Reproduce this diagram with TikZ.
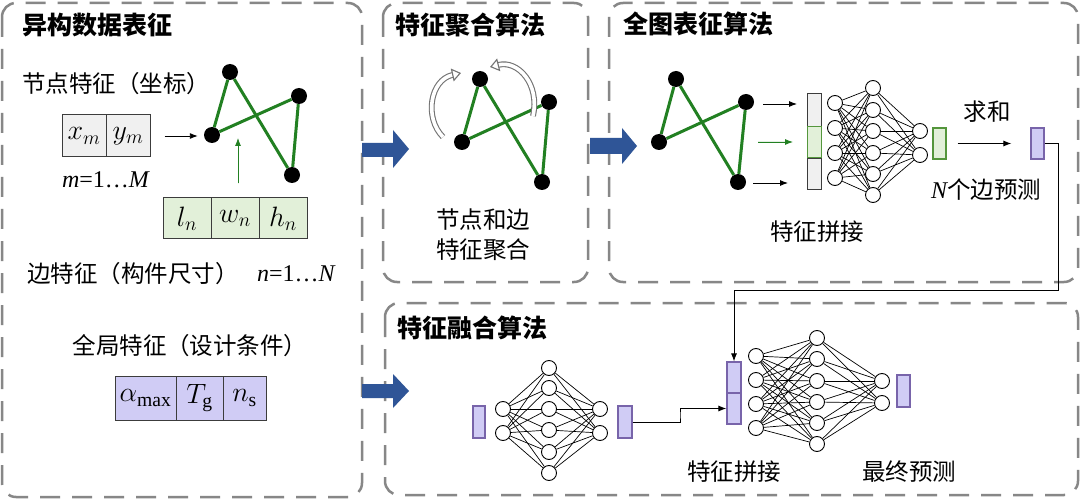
\RequirePackage{fix-cm}
\documentclass[tikz,border=0pt]{standalone}
\usepackage{fontspec}
\setmainfont{Liberation Serif}
\newfontfamily\cjk{Noto Sans CJK SC}
\usetikzlibrary{arrows.meta,calc}
\definecolor{panelgray}{RGB}{135,135,135}
\definecolor{edgegreen}{RGB}{34,128,34}
\definecolor{cellgray}{RGB}{240,240,240}
\definecolor{cellgreen}{RGB}{226,240,217}
\definecolor{greenline}{RGB}{84,150,60}
\definecolor{cellpurple}{RGB}{208,204,245}
\definecolor{purpleline}{RGB}{120,100,170}
\definecolor{arrowblue}{RGB}{47,85,151}
\definecolor{cellline}{RGB}{60,60,60}
\tikzset{
  panel/.style={draw=panelgray, line width=2.5pt, dash pattern=on 20pt off 12pt, rounded corners=14pt},
  ptitle/.style={font=\cjk\bfseries\fontsize{25}{28}\selectfont, anchor=west, inner sep=0pt},
  ctext/.style={font=\cjk\fontsize{23.5}{28}\selectfont, inner sep=0pt},
  mtext/.style={font=\fontsize{24}{26}\selectfont, inner sep=0pt},
  gnode/.style={circle, fill=black, minimum size=16pt, inner sep=0pt},
  gedge/.style={draw=edgegreen, line width=3pt},
  nnode/.style={circle, draw=black, fill=white, line width=0.9pt, minimum size=15pt, inner sep=0pt},
  nnedge/.style={draw=black, line width=0.7pt},
  cell/.style={draw=cellline, line width=1pt, inner sep=0pt, font=\fontsize{28}{30}\selectfont},
  vgray/.style={draw=cellline, fill=cellgray, line width=1pt, inner sep=0pt, minimum width=14pt},
  vgreen/.style={draw=greenline, fill=cellgreen, line width=1.2pt, inner sep=0pt, minimum width=13pt},
  vpurple/.style={draw=purpleline, fill=cellpurple, line width=1.2pt, inner sep=0pt, minimum width=13pt},
  thinarrow/.style={-{Latex[length=8pt,width=6pt]}, line width=0.9pt},
  bigarrow/.style={fill=arrowblue, draw=none},
  hollowarrow/.style={draw=black!55, double=white, double distance=3.6pt, line width=1.1pt, -{Triangle[open,length=9pt,width=13pt]}},
}
\begin{document}
\begin{tikzpicture}[x=1pt,y=-1pt]
\useasboundingbox (0,0) rectangle (1080,500);
\fill[white] (0,0) rectangle (1080,500);

% panels
\draw[panel] (2,3) rectangle (362,497);
\draw[panel] (383,3) rectangle (588,282);
\draw[panel] (609,3) rectangle (1078,282);
\draw[panel] (385,303) rectangle (1078,495);

% big blue arrows
\fill[bigarrow] (362,143) -- (393,143) -- (393,130) -- (409,149) -- (393,168) -- (393,157) -- (362,157) -- cycle;
\fill[bigarrow] (590,138) -- (622,138) -- (622,128) -- (637,146) -- (622,164) -- (622,154) -- (590,154) -- cycle;
\fill[bigarrow] (362,384) -- (393,384) -- (393,374) -- (409,391) -- (393,408) -- (393,398) -- (362,398) -- cycle;

% titles
\node[ptitle] (t1) at (22,25) {异构数据表征};
\node[ptitle] (t2) at (395,25) {特征聚合算法};
\node[ptitle] (t3) at (623,24) {全图表征算法};
\node[ptitle] (t4) at (397,328) {特征融合算法};

% ---------- left panel ----------
\node[ctext, anchor=west] (nodefeat) at (22,84) {节点特征（坐标）};
\node[cell, fill=cellgray, minimum width=44pt, minimum height=42pt] (xm) at (84,136) {$x_m$};
\node[cell, fill=cellgray, minimum width=44pt, minimum height=42pt] (ym) at (128,136) {$y_m$};
\node[mtext] (mrange) at (106,180) {\textit{m}=1…\textit{M}};

\node[gnode] (LA) at (230,72) {};
\node[gnode] (LB) at (299,96) {};
\node[gnode] (LC) at (212,135) {};
\node[gnode] (LD) at (292,175) {};
\draw[gedge] (LA) -- (LC);
\draw[gedge] (LA) -- (LD);
\draw[gedge] (LC) -- (LB);
\draw[gedge] (LB) -- (LD);

\draw[thinarrow, shorten <=14pt, shorten >=6pt] (ym.east) -- (ym.east -| LC.west);

\node[cell, fill=cellgreen, minimum width=48pt, minimum height=41pt] (ln) at (187,218.5) {$l_n$};
\node[cell, fill=cellgreen, minimum width=48pt, minimum height=41pt] (wn) at (235,218.5) {$w_n$};
\node[cell, fill=cellgreen, minimum width=48pt, minimum height=41pt] (hn) at (283,218.5) {$h_n$};
\coordinate (edgetip) at (238,138);
\draw[thinarrow, draw=edgegreen, fill=edgegreen, line width=0.8pt, shorten <=14pt] (wn.north -| edgetip) -- (edgetip);

\node[ctext, anchor=west] (edgefeat) at (27,274) {边特征（构件尺寸）};
\node[mtext, anchor=west] (nrange) at (257,274) {\textit{n}=1…\textit{N}};

\node[ctext] (globfeat) at (190,346) {全局特征（设计条件）};
\node[cell, fill=cellpurple, minimum width=61pt, minimum height=44pt] (amax) at (145.5,398) {$\alpha_{\mathrm{max}}$};
\node[cell, fill=cellpurple, minimum width=47pt, minimum height=44pt] (tg) at (199.5,398) {$T_{\mathrm{g}}$};
\node[cell, fill=cellpurple, minimum width=43pt, minimum height=44pt] (ns) at (244.5,398) {$n_{\mathrm{s}}$};

% ---------- middle panel ----------
\node[gnode] (MA) at (480,79) {};
\node[gnode] (MB) at (549,102) {};
\node[gnode] (MC) at (462,142) {};
\node[gnode] (MD) at (542,182) {};
\draw[gedge] (MA) -- (MC);
\draw[gedge] (MA) -- (MD);
\draw[gedge] (MC) -- (MB);
\draw[gedge] (MB) -- (MD);
\draw[hollowarrow] (443,137) .. controls (424,118) and (430,80) .. (461,73);
\draw[hollowarrow] (533,116) .. controls (540,84) and (518,60) .. (490,67);
\node[ctext] (agg1) at (483,220) {节点和边};
\node[ctext] (agg2) at (483,250) {特征聚合};

% ---------- top right panel ----------
\node[gnode] (RA) at (676,79) {};
\node[gnode] (RB) at (746,102) {};
\node[gnode] (RC) at (659,142) {};
\node[gnode] (RD) at (738,182) {};
\draw[gedge] (RA) -- (RC);
\draw[gedge] (RA) -- (RD);
\draw[gedge] (RC) -- (RB);
\draw[gedge] (RB) -- (RD);

\node[vgray, minimum height=33pt] (v1) at (814,110.5) {};
\node[vgray, minimum height=31pt] (v3) at (814,174) {};
\node[vgreen, minimum height=31pt, minimum width=14pt, line width=1pt] (v2) at (814,142.5) {};

\coordinate (a1s) at (763,104); \coordinate (a1e) at (797,104);
\coordinate (a2s) at (758,142); \coordinate (a2e) at (793,142);
\coordinate (a3s) at (753,183); \coordinate (a3e) at (788,183);
\draw[thinarrow] (a1s) -- (a1e);
\draw[thinarrow, draw=edgegreen, fill=edgegreen] (a2s) -- (a2e);
\draw[thinarrow] (a3s) -- (a3e);

% network 1
\foreach \y [count=\i] in {103,128,153,178} \node[nnode] (pa\i) at (835,\y) {};
\foreach \y [count=\i] in {88,110,131,153,174,195} \node[nnode] (pb\i) at (873,\y) {};
\foreach \y [count=\i] in {131,155} \node[nnode] (pc\i) at (920,\y) {};
\foreach \i in {1,...,4} \foreach \j in {1,...,6} \draw[nnedge] (pa\i) -- (pb\j);
\foreach \i in {1,...,6} \foreach \j in {1,2} \draw[nnedge] (pb\i) -- (pc\j);

\node[vgreen, minimum height=31pt] (gout) at (939.5,143.5) {};
\node[vpurple, minimum height=31pt] (pout) at (1037.5,143.5) {};
\draw[thinarrow, shorten <=11pt, shorten >=19pt] (gout.east) -- (gout.east -| pout.west);
\node[ctext] (sum) at (987,112) {求和};
\node[ctext] (npred) at (986,190) {{\rmfamily\itshape\fontsize{24}{26}\selectfont N}个边预测};
\node[ctext] (concat1) at (817,232) {特征拼接};

% ---------- bottom panel ----------
\node[vpurple, minimum height=32pt, minimum width=12pt] (bin) at (479,422) {};
\foreach \y [count=\i] in {409,433} \node[nnode] (qa\i) at (503,\y) {};
\foreach \y [count=\i] in {368,388,409,430,452,473} \node[nnode] (qb\i) at (549,\y) {};
\foreach \y [count=\i] in {409,433} \node[nnode] (qc\i) at (600,\y) {};
\foreach \i in {1,2} \foreach \j in {1,...,6} \draw[nnedge] (qa\i) -- (qb\j);
\foreach \i in {1,...,6} \foreach \j in {1,2} \draw[nnedge] (qb\i) -- (qc\j);
\node[vpurple, minimum height=32pt, minimum width=14pt] (bout) at (625,422) {};

\node[vpurple, minimum height=31pt, minimum width=14pt] (s1) at (734,377.5) {};
\node[vpurple, minimum height=31pt, minimum width=14pt] (s2) at (734,408.5) {};
\coordinate (c2) at (680,415);
\draw[thinarrow] (bout.east) -| (c2) |- (s2.west);

\coordinate (c1) at (1058,290);
\draw[thinarrow] (pout.east) -| (c1) -| (s1.north);

\foreach \y [count=\i] in {356,380,404,428} \node[nnode] (ra\i) at (756,\y) {};
\foreach \y [count=\i] in {338,359,381,402,423,444} \node[nnode] (rb\i) at (817,\y) {};
\foreach \y [count=\i] in {381,403} \node[nnode] (rc\i) at (882,\y) {};
\foreach \i in {1,...,4} \foreach \j in {1,...,6} \draw[nnedge] (ra\i) -- (rb\j);
\foreach \i in {1,...,6} \foreach \j in {1,2} \draw[nnedge] (rb\i) -- (rc\j);
\node[vpurple, minimum height=32pt, minimum width=13pt] (pfinal) at (903.5,391) {};

\node[ctext] (concat2) at (734,472) {特征拼接};
\node[ctext] (final) at (909,472) {最终预测};
\end{tikzpicture}
\end{document}
